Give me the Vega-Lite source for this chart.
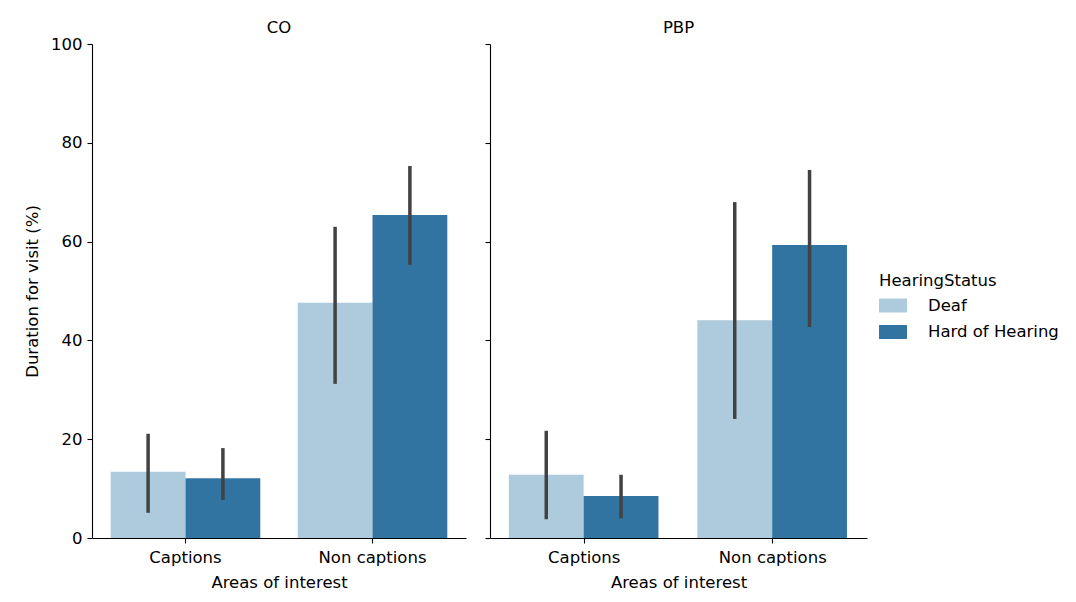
{
  "$schema": "https://vega.github.io/schema/vega-lite/v6.json",
  "background": "white",
  "padding": {"left": 24, "top": 19, "right": 5, "bottom": 5},
  "config": {
    "font": "DejaVu Sans",
    "view": {"stroke": null},
    "axis": {
      "domainColor": "black", "tickColor": "black", "labelColor": "black", "titleColor": "black",
      "labelFont": "DejaVu Sans", "titleFont": "DejaVu Sans",
      "labelFontSize": 16.5, "titleFontSize": 16.5, "titleFontWeight": "normal",
      "tickSize": 5, "labelPadding": 5, "grid": false, "domainWidth": 1.1, "tickWidth": 1.1
    },
    "axisX": {"labelPadding": 6.5, "titlePadding": 8},
    "title": {"font": "DejaVu Sans", "fontSize": 16.5, "fontWeight": "normal", "color": "black"},
    "legend": {"labelFont": "DejaVu Sans", "titleFont": "DejaVu Sans", "labelFontSize": 16.5, "titleFontSize": 16.5, "titleFontWeight": "normal", "labelColor": "black", "titleColor": "black", "labelLimit": 400, "titleLimit": 400}
  },
  "data": {"values": [
    {"Subject": "CO", "Area": "Captions", "HearingStatus": "Deaf", "mean": 13.4, "lo": 5.1, "hi": 21.1},
    {"Subject": "CO", "Area": "Captions", "HearingStatus": "Hard of Hearing", "mean": 12.1, "lo": 7.7, "hi": 18.2},
    {"Subject": "CO", "Area": "Non captions", "HearingStatus": "Deaf", "mean": 47.6, "lo": 31.2, "hi": 63.0},
    {"Subject": "CO", "Area": "Non captions", "HearingStatus": "Hard of Hearing", "mean": 65.4, "lo": 55.3, "hi": 75.3},
    {"Subject": "PBP", "Area": "Captions", "HearingStatus": "Deaf", "mean": 12.8, "lo": 3.8, "hi": 21.7},
    {"Subject": "PBP", "Area": "Captions", "HearingStatus": "Hard of Hearing", "mean": 8.5, "lo": 4.0, "hi": 12.8},
    {"Subject": "PBP", "Area": "Non captions", "HearingStatus": "Deaf", "mean": 44.1, "lo": 24.1, "hi": 68.0},
    {"Subject": "PBP", "Area": "Non captions", "HearingStatus": "Hard of Hearing", "mean": 59.3, "lo": 42.7, "hi": 74.5}
  ]},
  "spacing": 18,
  "hconcat": [
    {
      "title": {"text": "CO", "offset": 0},
      "width": 374, "height": 494,
      "transform": [{"filter": "datum.Subject === 'CO'"}],
      "encoding": {
        "x": {"field": "Area", "type": "nominal", "title": "Areas of interest",
              "scale": {"paddingInner": 0.2, "paddingOuter": 0.1},
              "axis": {"labelAngle": 0}},
        "xOffset": {"field": "HearingStatus", "type": "nominal", "scale": {"paddingInner": 0, "paddingOuter": 0}}
      },
      "layer": [
        {"mark": {"type": "bar"},
         "encoding": {
           "y": {"field": "mean", "type": "quantitative", "title": "Duration for visit (%)",
                 "scale": {"domain": [0, 100], "nice": false},
                 "axis": {"values": [0, 20, 40, 60, 80, 100], "titlePadding": 10}},
           "color": {"field": "HearingStatus", "type": "nominal", "title": "HearingStatus",
                     "scale": {"domain": ["Deaf", "Hard of Hearing"], "range": ["#aecbdd", "#3274a1"]},
                     "legend": {"orient": "none", "legendX": 787, "legendY": 229,
                                "symbolType": "M-1,-0.5H1V0.5H-1Z", "symbolSize": 784,
                                "symbolStrokeWidth": 0, "labelOffset": 21, "rowPadding": 3.5, "titlePadding": 2}}
         }},
        {"mark": {"type": "rule", "strokeWidth": 3.5, "color": "#424242"},
         "encoding": {
           "y": {"field": "lo", "type": "quantitative"},
           "y2": {"field": "hi"}
         }}
      ]
    },
    {
      "title": {"text": "PBP", "offset": 7},
      "width": 377, "height": 494,
      "transform": [{"filter": "datum.Subject === 'PBP'"}],
      "encoding": {
        "x": {"field": "Area", "type": "nominal", "title": "Areas of interest",
              "scale": {"paddingInner": 0.2, "paddingOuter": 0.1},
              "axis": {"labelAngle": 0}},
        "xOffset": {"field": "HearingStatus", "type": "nominal", "scale": {"paddingInner": 0, "paddingOuter": 0}}
      },
      "layer": [
        {"mark": {"type": "bar"},
         "encoding": {
           "y": {"field": "mean", "type": "quantitative", "title": null,
                 "scale": {"domain": [0, 100], "nice": false},
                 "axis": {"values": [0, 20, 40, 60, 80, 100], "labels": false}},
           "color": {"field": "HearingStatus", "type": "nominal",
                     "scale": {"domain": ["Deaf", "Hard of Hearing"], "range": ["#aecbdd", "#3274a1"]},
                     "legend": null}
         }},
        {"mark": {"type": "rule", "strokeWidth": 3.5, "color": "#424242"},
         "encoding": {
           "y": {"field": "lo", "type": "quantitative"},
           "y2": {"field": "hi"}
         }}
      ]
    }
  ]
}
